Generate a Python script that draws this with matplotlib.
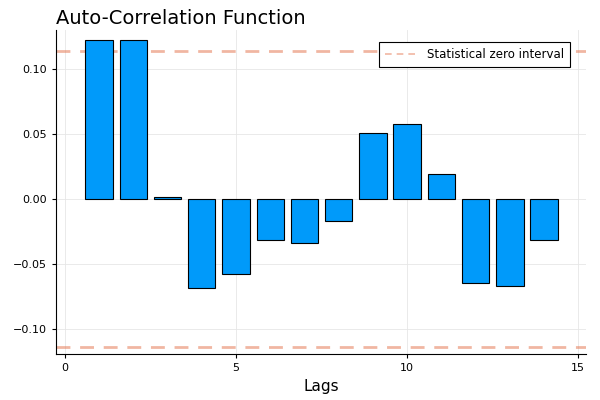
import numpy as np
import matplotlib.pyplot as plt

lags = np.arange(1, 15)
acf = [0.1223, 0.1223, 0.0015, -0.0685, -0.0577, -0.0315, -0.034,
       -0.017, 0.0508, 0.0577, 0.0192, -0.0646, -0.067, -0.0315]
zero_band = 0.1135

fig = plt.figure(figsize=(6, 4), dpi=100)
ax = fig.add_axes([0.0933, 0.115, 0.8837, 0.81])

ax.bar(lags, acf, width=0.8, color='#009AFA', edgecolor='black', linewidth=0.8, zorder=3)
ax.axhline(zero_band, color='#E36F47', alpha=0.5, lw=2, ls=(0, (5, 3.5)), zorder=2,
           label='Statistical zero interval')
ax.axhline(-zero_band, color='#E36F47', alpha=0.5, lw=2, ls=(0, (5, 3.5)), zorder=2)

ax.set_xlim(-0.26, 15.23)
ax.set_ylim(-0.119, 0.130)
ax.set_xticks([0, 5, 10, 15])
ax.set_yticks([-0.10, -0.05, 0.0, 0.05, 0.10])
ax.set_yticklabels(['\u22120.10', '\u22120.05', '0.00', '0.05', '0.10'])
ax.grid(True, color='#e6e6e6', lw=0.6, zorder=0)
ax.spines['top'].set_visible(False)
ax.spines['right'].set_visible(False)
ax.tick_params(labelsize=8, length=3, width=0.8)
ax.set_xlabel('Lags', fontsize=11)
ax.set_title('Auto-Correlation Function', loc='left', fontsize=14, pad=4)

leg = ax.legend(loc='upper right', bbox_to_anchor=(0.970, 0.963), borderaxespad=0,
                fontsize=8.5, fancybox=False, framealpha=1, edgecolor='black',
                handlelength=2.8, borderpad=0.5, handletextpad=0.8)
leg.get_frame().set_linewidth(0.8)
for h in leg.get_lines():
    h.set_linewidth(1.2)
    h.set_linestyle((0, (4, 3)))

fig.savefig('out.png')
